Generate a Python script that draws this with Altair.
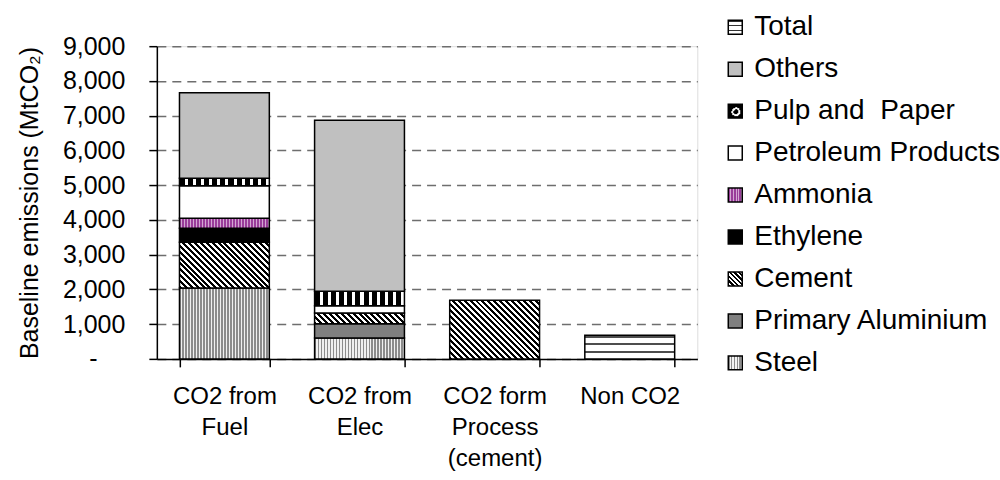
import json

import altair as alt
import pandas as pd

# --- data -------------------------------------------------------------------
categories = ["CO2 from Fuel", "CO2 from Elec", "CO2 form Process (cement)", "Non CO2"]
category_lines = [["CO2 from", "Fuel"], ["CO2 from", "Elec"],
                  ["CO2 form", "Process", "(cement)"], ["Non CO2"]]

# sectors in stacking order, bottom to top
sectors = ["Steel", "Primary Aluminium", "Cement", "Ethylene", "Ammonia",
           "Petroleum Products", "Pulp and\u00a0 Paper", "Others", "Total"]

steel = [2040, 600, 0, 0]
primary_aluminium = [0, 410, 0, 0]
cement = [1320, 310, 1690, 0]
ethylene = [400, 0, 0, 0]
ammonia = [290, 0, 0, 0]
petroleum_products = [930, 210, 0, 0]
pulp_and_paper = [220, 420, 0, 0]
others = [2460, 4920, 0, 0]
total = [0, 0, 0, 680]

y_ticks = list(range(0, 9001, 1000))

series_values = [steel, primary_aluminium, cement, ethylene, ammonia,
                 petroleum_products, pulp_and_paper, others, total]

# --- layout -------------------------------------------------------------------
FONT = "Liberation Sans"
PLOT_W, PLOT_H = 541, 313
Y_MAX = 9000
PAD_INNER = 0.335
BAR_W = PLOT_W / len(categories) * (1 - PAD_INNER)
SYMBOL = 14


# --- fill textures (Vega linear / radial gradients) ------------------------
def stripes(n, ink, paper, share, x1, y1, x2, y2):
    stops = []
    for i in range(n):
        a, b, c = i / n, (i + share) / n, (i + 1) / n
        stops += [{"offset": round(a, 4), "color": ink},
                  {"offset": round(b, 4), "color": ink},
                  {"offset": round(b, 4), "color": paper},
                  {"offset": round(c, 4), "color": paper}]
    return {"gradient": "linear", "x1": x1, "y1": y1, "x2": round(x2, 4),
            "y2": round(y2, 4), "stops": stops}


def diagonal(w, h, period, ink="#000000", paper="#ffffff", share=0.5):
    # "\" hatching at 45 degrees inside a w x h box
    s = (w + h) / (w * w + h * h)
    n = max(1, round((w + h) / (2 ** 0.5 * period)))
    return stripes(n, ink, paper, share, 0, 1, s * w, 1 - s * h)


def columns(w, period, ink, paper, share):
    n = max(1, round(w / period))
    return stripes(n, ink, paper, share, 0, 0, 1, 0)


def rows(h, period, ink, paper, share):
    n = max(1, round(h / period))
    return stripes(n, ink, paper, share, 0, 0, 0, 1)


def ring():
    return {"gradient": "radial", "x1": 0.55, "y1": 0.55, "r1": 0,
            "x2": 0.55, "y2": 0.55, "r2": 0.5,
            "stops": [{"offset": 0, "color": "#000000"},
                      {"offset": 0.35, "color": "#000000"},
                      {"offset": 0.35, "color": "#ffffff"},
                      {"offset": 0.62, "color": "#ffffff"},
                      {"offset": 0.62, "color": "#000000"},
                      {"offset": 1, "color": "#000000"}]}


def texture(sector, w, h):
    if sector == "Steel":
        return columns(w, 3, "#8c8c8c", "#f0f0f0", 0.45)
    if sector == "Primary Aluminium":
        return "#808080"
    if sector == "Cement":
        return diagonal(w, h, 4.2)
    if sector == "Ethylene":
        return "#000000"
    if sector == "Ammonia":
        return columns(w, 3, "#993d99", "#d2a6d2", 0.65)
    if sector == "Petroleum Products":
        return "#ffffff"
    if sector.startswith("Pulp"):
        return columns(w, 8, "#000000", "#ffffff", 0.62)
    if sector == "Others":
        return "#c0c0c0"
    return rows(h, 7.5, "#4d4d4d", "#ffffff", 0.3)


def as_range(v):
    return v if isinstance(v, str) else {"expr": json.dumps(v)}


# --- table ------------------------------------------------------------------
records = []
fill_domain, fill_range = [], []
for rank, (sector, values) in enumerate(zip(sectors, series_values)):
    for cat, v in zip(categories, values):
        if v <= 0:
            continue
        key = f"{sector}|{cat}"
        records.append({"category": cat, "sector": sector, "value": v,
                        "key": key, "rank": rank})
        fill_domain.append(key)
        fill_range.append(as_range(texture(sector, BAR_W, v / Y_MAX * PLOT_H)))
df = pd.DataFrame(records)

legend_order = sectors[::-1]
legend_range = []
for s in legend_order:
    if s.startswith("Pulp"):
        legend_range.append(as_range(ring()))
    elif s == "Total":
        legend_range.append(as_range(rows(SYMBOL, 4.7, "#333333", "#ffffff", 0.3)))
    elif s == "Cement":
        legend_range.append(as_range(diagonal(SYMBOL, SYMBOL, 3.2)))
    elif s == "Steel":
        legend_range.append(as_range(columns(SYMBOL, 2.8, "#8c8c8c", "#f4f4f4", 0.45)))
    else:
        legend_range.append(as_range(texture(s, SYMBOL, SYMBOL)))

# --- axis labels --------------------------------------------------------------
x_label_expr = "datum.value"
for cat, lines in reversed(list(zip(categories, category_lines))):
    x_label_expr = f"datum.value === {json.dumps(cat)} ? {json.dumps(lines)} : ({x_label_expr})"

# zero is shown as an accounting-style dash, set in from the right edge
# (the zero-width tail keeps the non-breaking spaces from being trimmed)
zero_label = "-" + "\u00a0" * 4 + "\u200b"
y_label_expr = f"datum.value === 0 ? '{zero_label}' : format(datum.value, ',')"

# --- chart --------------------------------------------------------------------
base = alt.Chart(df).encode(
    x=alt.X(
        "category:N", sort=categories,
        scale=alt.Scale(paddingInner=PAD_INNER, paddingOuter=PAD_INNER / 2),
        axis=alt.Axis(
            title=None, labelExpr=x_label_expr, labelAngle=0,
            labelFont=FONT, labelFontSize=24, labelColor="#000000",
            labelLineHeight=31, labelPadding=18, labelBaseline="top",
            tickBand="extent", tickSize=8, tickWidth=1.5, tickColor="#000000",
            domainColor="#000000", domainWidth=1.5, grid=False,
        ),
    ),
    y=alt.Y(
        "value:Q", stack="zero",
        scale=alt.Scale(domain=[0, Y_MAX], nice=False),
        axis=alt.Axis(
            values=y_ticks, labelExpr=y_label_expr,
            labelFont=FONT, labelFontSize=25, labelColor="#000000",
            labelPadding=24, tickSize=8, tickWidth=1.5, tickColor="#000000",
            domainColor="#000000", domainWidth=1.5,
            grid=True, gridDash=[9, 6], gridColor="#6e6e6e", gridWidth=1.5,
            title="Baseline emissions (MtCO\u2082)", titleFont=FONT,
            titleFontSize=25, titleFontWeight="normal", titleColor="#000000",
            titlePadding=20,
        ),
    ),
    order=alt.Order("rank:Q"),
)

# stacked bars, each segment filled with its own texture
bars = base.mark_bar(stroke="#000000", strokeWidth=1.5).encode(
    fill=alt.Fill("key:N", scale=alt.Scale(domain=fill_domain, range=fill_range),
                  legend=None),
)

# sector legend (the layer itself keeps no rows, only its colour scale)
key_layer = base.mark_bar(stroke="#000000", strokeWidth=1.5).encode(
    color=alt.Color(
        "sector:N",
        scale=alt.Scale(domain=legend_order, range=legend_range),
        legend=alt.Legend(
            title=None, orient="none", legendX=565, legendY=-33,
            labelFont=FONT, labelFontSize=28, labelColor="#000000",
            labelOffset=5, rowPadding=14, symbolType="square",
            symbolSize=SYMBOL * SYMBOL, symbolStrokeColor="#000000",
            symbolStrokeWidth=1.5, padding=0, labelLimit=400,
        ),
    ),
).transform_filter("datum.value < 0")

chart = alt.layer(bars, key_layer).properties(
    width=PLOT_W, height=PLOT_H,
    padding={"left": 17, "top": 13, "right": 0, "bottom": 0},
).configure_view(stroke=None).configure(background="#ffffff")

chart.save("out.html", embed_options={"renderer": "svg", "actions": False})
